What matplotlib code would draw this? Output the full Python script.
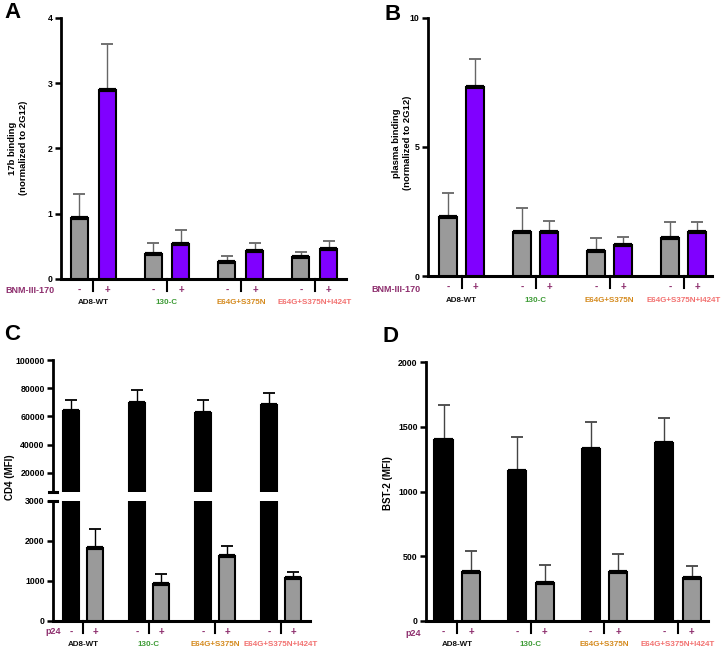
import numpy as np
import matplotlib.pyplot as plt

plt.rcParams['font.family'] = ['Liberation Sans', 'DejaVu Sans']
plt.rcParams['font.weight'] = 'bold'

groups = ['AD8-WT', '130-C', 'E64G+S375N', 'E64G+S375N+I424T']
group_colors = ['#111111', '#3d9b35', '#d4891c', '#f2706f']

# panel A: 17b binding
a_minus = [0.94, 0.39, 0.26, 0.33]
a_minus_err = [0.36, 0.16, 0.10, 0.09]
a_plus = [2.90, 0.54, 0.43, 0.46]
a_plus_err = [0.70, 0.21, 0.12, 0.12]

# panel B: plasma binding
b_minus = [2.28, 1.69, 0.97, 1.47]
b_minus_err = [0.95, 0.94, 0.50, 0.64]
b_plus = [7.31, 1.69, 1.20, 1.72]
b_plus_err = [1.10, 0.46, 0.33, 0.36]

# panel C: CD4 (MFI)
c_minus = [63900, 69500, 62500, 68100]
c_minus_err = [7800, 9300, 9200, 8500]
c_plus = [1820, 925, 1625, 1065]
c_plus_err = [490, 250, 260, 150]

# panel D: BST-2 (MFI)
d_minus = [1400, 1157, 1329, 1378]
d_minus_err = [266, 265, 208, 190]
d_plus = [380, 296, 375, 329]
d_plus_err = [160, 136, 144, 98]

purple = '#8000ff'
gray = '#9a9a9a'
sign_color = '#8e2f6e'

W, H = 723, 655
fig = plt.figure(figsize=(W / 100, H / 100), dpi=100)


def px_axes(l, t, r, b):
    return fig.add_axes([l / W, 1 - b / H, (r - l) / W, (b - t) / H])


def style(ax, ticks):
    for s in ['top', 'right']:
        ax.spines[s].set_visible(False)
    ax.spines['left'].set_linewidth(2)
    ax.spines['bottom'].set_linewidth(2.2)
    ax.set_xticks([])
    ax.set_yticks(ticks)
    ax.tick_params(axis='y', direction='out', length=4, width=1.8,
                   labelsize=6.3, pad=2)
    for t in ax.get_yticklabels():
        t.set_fontweight('bold')


def bars(ax, x, vals, errs, color, width, ecolor):
    ax.bar(x, vals, width=width, color=color, edgecolor='black', linewidth=1.5,
           zorder=3)
    ax.hlines(vals, x - width / 2, x + width / 2, color='black', lw=3, zorder=4)
    ax.errorbar(x, vals, yerr=[np.zeros(len(vals)), errs], fmt='none',
                ecolor=ecolor, elinewidth=1, capsize=4, capthick=1.3, zorder=2)


def under(ax, x, off_px, s, **kw):
    ax.annotate(s, xy=(x, 0), xycoords=('data', 'axes fraction'),
                xytext=(0, -off_px * 0.72), textcoords='offset points',
                ha='center', va='center', annotation_clip=False, **kw)


def labels_below(ax, px_h, off, treat, treat_x, treat_y):
    for g in range(4):
        ax.plot([g, g], [0, -12 / px_h], transform=ax.get_xaxis_transform(),
                color='black', lw=1.5, clip_on=False)
        under(ax, g - off, 11, '-', color=sign_color, fontsize=7,
              fontweight='bold')
        under(ax, g + off, 11, '+', color=sign_color, fontsize=7,
              fontweight='bold')
        under(ax, g, 24, groups[g], color=group_colors[g],
              fontsize=5.8, fontweight='bold')
    fig.text(treat_x / W, 1 - treat_y / H, treat, ha='right', va='center',
             color=sign_color, fontsize=6.5, fontweight='bold')


x = np.arange(4)

# ---- A ----
axA = px_axes(61, 18, 346, 279)
off = 0.189
bars(axA, x - off, a_minus, a_minus_err, gray, 0.23, '#666666')
bars(axA, x + off, a_plus, a_plus_err, purple, 0.23, '#666666')
axA.set_xlim(-0.433, 3.42)
axA.set_ylim(0, 4)
style(axA, [0, 1, 2, 3, 4])
labels_below(axA, 261, off, 'BNM-III-170', 55, 290)
fig.text(18 / W, 1 - 148 / H, '17b binding\n(normalized to 2G12)', rotation=90,
         ha='center', va='center', fontsize=6.8, fontweight='bold',
         multialignment='center')
fig.text(4 / W, 1 - 12 / H, 'A', fontsize=16, fontweight='bold', va='center')

# ---- B ----
axB = px_axes(428, 18, 712, 276)
off = 0.185
bars(axB, x - off, b_minus, b_minus_err, gray, 0.24, '#666666')
bars(axB, x + off, b_plus, b_plus_err, purple, 0.24, '#666666')
axB.set_xlim(-0.453, 3.385)
axB.set_ylim(0, 10)
style(axB, [0, 5, 10])
labels_below(axB, 258, off, 'BNM-III-170', 420, 289)
fig.text(402 / W, 1 - 143 / H, 'plasma binding\n(normalized to 2G12)',
         rotation=90, ha='center', va='center', fontsize=6.8, fontweight='bold',
         multialignment='center')
fig.text(384 / W, 1 - 14 / H, 'B', fontsize=16, fontweight='bold', va='center')

# ---- C (broken axis) ----
off = 0.182
axCt = px_axes(53, 360, 310, 492)
axCb = px_axes(53, 501, 310, 621)
for ax in (axCt, axCb):
    bars(ax, x - off, c_minus, c_minus_err, 'black', 0.24, 'black')
    bars(ax, x + off, c_plus, c_plus_err, gray, 0.24, 'black')
    ax.set_xlim(-0.455, 3.44)
axCt.set_ylim(6500, 100000)
axCb.set_ylim(0, 3000)
style(axCt, [20000, 40000, 60000, 80000, 100000])
style(axCb, [0, 1000, 2000, 3000])
axCt.spines['bottom'].set_visible(False)
# break marks
axCt.plot([-0.016, 0.016], [0, 0], transform=axCt.transAxes, color='black',
          lw=2.2, clip_on=False)
axCb.plot([-0.016, 0.016], [1, 1], transform=axCb.transAxes, color='black',
          lw=2.2, clip_on=False)
labels_below(axCb, 120, off, 'p24', 61, 632)
fig.text(10 / W, 1 - 477 / H, 'CD4 (MFI)', rotation=90, ha='center',
         va='center', fontsize=7, fontweight='bold')
fig.text(4 / W, 1 - 334 / H, 'C', fontsize=16, fontweight='bold', va='center')

# ---- D ----
axD = px_axes(426, 362, 708, 621)
off = 0.187
bars(axD, x - off, d_minus, d_minus_err, 'black', 0.245, '#444444')
bars(axD, x + off, d_plus, d_plus_err, gray, 0.245, '#444444')
axD.set_xlim(-0.425, 3.41)
axD.set_ylim(0, 2000)
style(axD, [0, 500, 1000, 1500, 2000])
labels_below(axD, 259, off, 'p24', 421, 633)
fig.text(388 / W, 1 - 483 / H, 'BST-2 (MFI)', rotation=90, ha='center',
         va='center', fontsize=7, fontweight='bold')
fig.text(382 / W, 1 - 337 / H, 'D', fontsize=16, fontweight='bold', va='center')

fig.savefig('out.png', dpi=100)
